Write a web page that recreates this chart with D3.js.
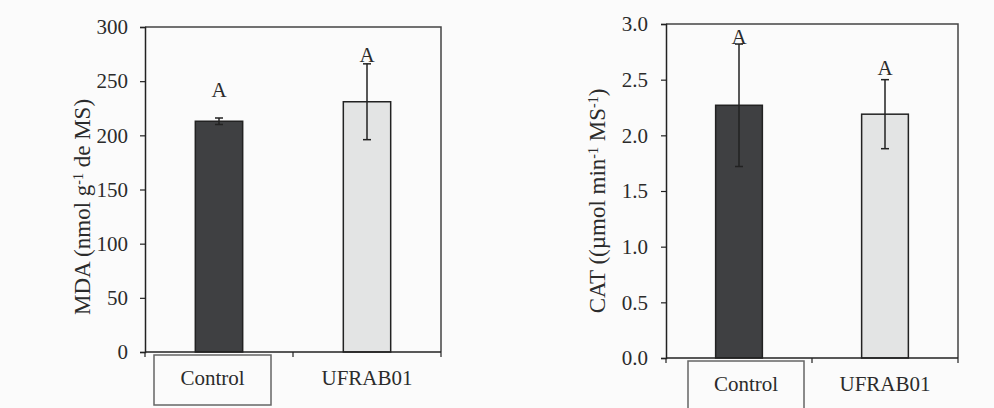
<!DOCTYPE html>
<html>
<head>
<meta charset="utf-8">
<script src="https://cdn.jsdelivr.net/npm/d3@7"></script>
<style>
  body { margin: 0; background: #fbfbfb; }
  text { font-family: "Liberation Serif", "Times New Roman", serif; fill: #2b2b2b; }
</style>
</head>
<body>
<div id="chart"></div>
<script>
// data
var categories = ["Control", "UFRAB01"];
var mdaValues = [213, 231];
var mdaErrors = [3, 35];
var mdaLetters = ["A", "A"];
var mdaLetterAt = [235, 268];
var mdaTicks = [0, 50, 100, 150, 200, 250, 300];

var catValues = [2.27, 2.19];
var catErrors = [0.55, 0.31];
var catLetters = ["A", "A"];
var catLetterAt = [2.82, 2.54];
var catTicks = [0, 0.5, 1.0, 1.5, 2.0, 2.5, 3.0];

var svgWidth = 994;
var svgHeight = 408;

var svg = d3.select("#chart")
    .append("svg")
    .attr("width", svgWidth)
    .attr("height", svgHeight);

function drawPanel(opt) {
    var x = d3.scaleBand().domain(categories).range([opt.left, opt.right]).paddingInner(0).paddingOuter(0);
    var y = d3.scaleLinear().domain([0, opt.max]).range([opt.bottom, opt.top]);
    var g = svg.append("g");

    // frame (top and right)
    g.append("path")
        .attr("d", "M" + opt.left + "," + opt.top + "H" + opt.right + "V" + opt.bottom)
        .attr("fill", "none")
        .attr("stroke", "#444")
        .attr("stroke-width", 1.5);

    // y axis
    var yAxis = d3.axisLeft(y).tickValues(opt.ticks).tickSize(5).tickPadding(opt.pad)
        .tickFormat(opt.fmt);
    var ya = g.append("g")
        .attr("transform", "translate(" + opt.left + ",0)")
        .call(yAxis);
    ya.select(".domain").attr("stroke", "#222").attr("stroke-width", 1.5);
    ya.selectAll(".tick line").attr("stroke", "#222").attr("stroke-width", 1.2);
    ya.selectAll(".tick text").style("font-size", "21px").attr("fill", "#2b2b2b");

    // bars
    var bw = x.bandwidth() * 0.32;
    var rows = categories.map(function (c, i) {
        return { cat: c, v: opt.values[i], e: opt.errors[i], l: opt.letters[i], la: opt.letterAt[i], i: i };
    });
    g.selectAll(".bar")
        .data(rows)
        .enter()
        .append("rect")
        .attr("x", function (d) { return x(d.cat) + x.bandwidth() / 2 - bw / 2; })
        .attr("y", function (d) { return y(d.v); })
        .attr("width", bw)
        .attr("height", function (d) { return y(0) - y(d.v); })
        .attr("fill", function (d) { return d.i === 0 ? "#3f4042" : "#e3e4e4"; })
        .attr("stroke", "#222")
        .attr("stroke-width", 1.5);

    // error bars + letters
    rows.forEach(function (d) {
        var cx = x(d.cat) + x.bandwidth() / 2;
        g.append("line").attr("x1", cx).attr("x2", cx)
            .attr("y1", y(d.v + d.e)).attr("y2", y(d.v - d.e))
            .attr("stroke", "#222").attr("stroke-width", 1.5);
        [d.v + d.e, d.v - d.e].forEach(function (v) {
            g.append("line").attr("x1", cx - 4).attr("x2", cx + 4)
                .attr("y1", y(v)).attr("y2", y(v))
                .attr("stroke", "#222").attr("stroke-width", 1.5);
        });
        g.append("text")
            .attr("x", cx)
            .attr("y", y(d.la))
            .attr("text-anchor", "middle")
            .style("font-size", "21px")
            .text(d.l);
    });

    // x axis
    g.append("line").attr("x1", opt.left).attr("x2", opt.right)
        .attr("y1", opt.bottom).attr("y2", opt.bottom)
        .attr("stroke", "#222").attr("stroke-width", 1.5);
    [opt.left, x(categories[1]), opt.right].forEach(function (px) {
        g.append("line").attr("x1", px).attr("x2", px)
            .attr("y1", opt.bottom).attr("y2", opt.bottom + 5)
            .attr("stroke", "#222").attr("stroke-width", 1.2);
    });

    // category labels, Control boxed
    g.append("rect")
        .attr("x", opt.boxX)
        .attr("y", opt.bottom + 3)
        .attr("width", opt.boxW)
        .attr("height", 50)
        .attr("fill", "#fbfbfb")
        .attr("stroke", "#666")
        .attr("stroke-width", 1.5);
    g.selectAll(".cat")
        .data(categories)
        .enter()
        .append("text")
        .attr("x", function (d, i) { return i === 0 ? opt.boxX + opt.boxW / 2 : x(d) + x.bandwidth() / 2; })
        .attr("y", opt.bottom + 33)
        .attr("text-anchor", "middle")
        .style("font-size", "21px")
        .text(function (d) { return d; });

    // y title
    var t = g.append("text")
        .attr("transform", "translate(" + opt.titleX + "," + opt.titleY + ") rotate(-90)")
        .attr("text-anchor", "middle")
        .style("font-size", "23px");
    opt.title.forEach(function (part) {
        var s = t.append("tspan").text(part[0]);
        if (part[1]) s.attr("baseline-shift", "super").style("font-size", "14px");
    });
}

drawPanel({
    left: 145, right: 441, top: 27, bottom: 352, max: 300,
    values: mdaValues, errors: mdaErrors, letters: mdaLetters, letterAt: mdaLetterAt,
    ticks: mdaTicks, fmt: d3.format("d"), pad: 12,
    boxX: 154, boxW: 117,
    titleX: 90, titleY: 207,
    title: [["MDA (nmol g"], ["-1", true], [" de MS)"]]
});

drawPanel({
    left: 666, right: 958, top: 24, bottom: 358, max: 3,
    values: catValues, errors: catErrors, letters: catLetters, letterAt: catLetterAt,
    ticks: catTicks, fmt: d3.format(".1f"), pad: 13,
    boxX: 688, boxW: 116,
    titleX: 605, titleY: 201,
    title: [["CAT ((µmol min"], ["-1", true], [" MS"], ["-1", true], [")"]]
});
</script>
</body>
</html>
